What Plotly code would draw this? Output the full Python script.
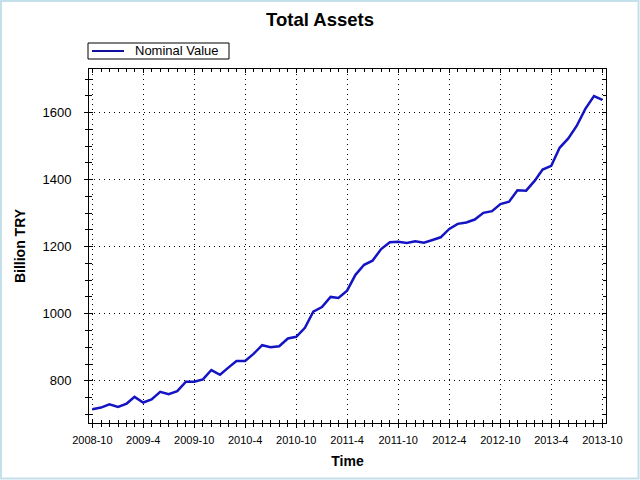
import pandas as pd
import plotly.graph_objects as go

# monthly total assets, billion TRY
months = pd.date_range("2008-10-01", "2013-10-01", freq="MS")
nominal_value = [
    715, 720, 730,
    722, 732, 752, 735, 744, 767, 760, 769, 797, 797, 804, 832,
    818, 840, 859, 859, 880, 906, 900, 903, 926, 931, 958, 1006,
    1020, 1050, 1047, 1069, 1116, 1146, 1158, 1193, 1213, 1215, 1211, 1216,
    1212, 1220, 1228, 1253, 1268, 1272, 1281, 1301, 1306, 1327, 1334, 1368,
    1367, 1397, 1430, 1441, 1495, 1523, 1560, 1611, 1649, 1638,
]
series_name = "Nominal Value"
tick_dates = pd.date_range("2008-10-01", "2013-10-01", freq="6MS")
tick_labels = [f"{d.year}-{d.month}" for d in tick_dates]

FONT = "Liberation Sans, Arial, sans-serif"
LINE_COLOR = "#1414c4"
W, H = 640, 480
L, R, T, B = 89, 34, 69, 57
pw, ph = W - L - R, H - T - B
x_range = ["2008-09-19", "2013-10-14"]
y_range = [674, 1730]


def px_x(p):
    return (p - L) / pw


def px_y(p):
    return 1 - (p - T) / ph


fig = go.Figure()
fig.add_trace(go.Scatter(
    x=months, y=nominal_value, mode="lines", name=series_name,
    line=dict(color=LINE_COLOR, width=2.5), showlegend=False,
))
# empty trace so the overlay axes (inward tick halves) get drawn
fig.add_trace(go.Scatter(x=[], y=[], xaxis="x2", yaxis="y2",
                         showlegend=False, hoverinfo="skip"))

grid = dict(showgrid=True, gridcolor="black", gridwidth=1, griddash="1px,4px")
fig.update_layout(
    width=W, height=H,
    margin=dict(l=L, r=R, t=T, b=B, autoexpand=False),
    paper_bgcolor="white", plot_bgcolor="white",
    font=dict(family=FONT, color="black"),
    title=dict(text="<b>Total Assets</b>", x=0.5, xanchor="center",
               y=1 - 20 / H, yanchor="middle", font=dict(size=18.5)),
    showlegend=False,
    xaxis=dict(
        type="date", range=x_range, tickvals=tick_dates, ticktext=tick_labels,
        tickfont=dict(size=11), ticks="outside", ticklen=4, tickcolor="black",
        ticklabelstandoff=3,
        minor=dict(dtick="M1", ticks="outside", ticklen=3, tickcolor="black", showgrid=False),
        showline=True, linecolor="black", linewidth=1, mirror=True, zeroline=False,
        title=dict(text="<b>Time</b>", font=dict(size=14), standoff=10),
        automargin=False,
        **grid,
    ),
    yaxis=dict(
        range=y_range, dtick=200, tickfont=dict(size=13), ticks="outside",
        ticklen=4, tickcolor="black", ticklabelstandoff=10,
        minor=dict(dtick=50, ticks="outside", ticklen=3, tickcolor="black", showgrid=False),
        showline=True, linecolor="black", linewidth=1, mirror=True, zeroline=False,
        title=dict(text="<b>Billion TRY</b>", font=dict(size=14), standoff=13),
        automargin=False,
        **grid,
    ),
    # overlay axes carry the inward half of the crossing ticks
    xaxis2=dict(
        type="date", range=x_range, overlaying="x", anchor="y", tickvals=tick_dates,
        showticklabels=False, ticks="inside", ticklen=4, tickcolor="black",
        minor=dict(dtick="M1", ticks="inside", ticklen=3, tickcolor="black"),
        mirror="ticks", showgrid=False, zeroline=False, automargin=False,
    ),
    yaxis2=dict(
        range=y_range, overlaying="y", anchor="x", dtick=200,
        showticklabels=False, ticks="inside", ticklen=4, tickcolor="black",
        minor=dict(dtick=50, ticks="inside", ticklen=3, tickcolor="black"),
        mirror="ticks", showgrid=False, zeroline=False, automargin=False,
    ),
)

# legend box drawn by hand so it can be as compact as the original
fig.add_shape(type="rect", xref="paper", yref="paper",
              x0=px_x(88), x1=px_x(229), y0=px_y(59), y1=px_y(43),
              line=dict(color="black", width=1), fillcolor="white")
fig.add_shape(type="line", xref="paper", yref="paper",
              x0=px_x(92), x1=px_x(124), y0=px_y(51), y1=px_y(51),
              line=dict(color="#10109a", width=2))
fig.add_annotation(text=series_name, xref="paper", yref="paper",
                   x=px_x(133), y=px_y(51), xanchor="left", yanchor="middle",
                   showarrow=False, font=dict(size=13))

# light blue frame around the whole picture
fig.add_shape(type="rect", xref="paper", yref="paper", layer="above",
              x0=px_x(1), x1=px_x(W - 1.5), y0=px_y(H - 1.5), y1=px_y(1),
              line=dict(color="#c4e0ea", width=2), fillcolor="rgba(0,0,0,0)")

fig.write_html("out.html", config={"displayModeBar": False},
               post_script="document.body.style.margin='0px';")
